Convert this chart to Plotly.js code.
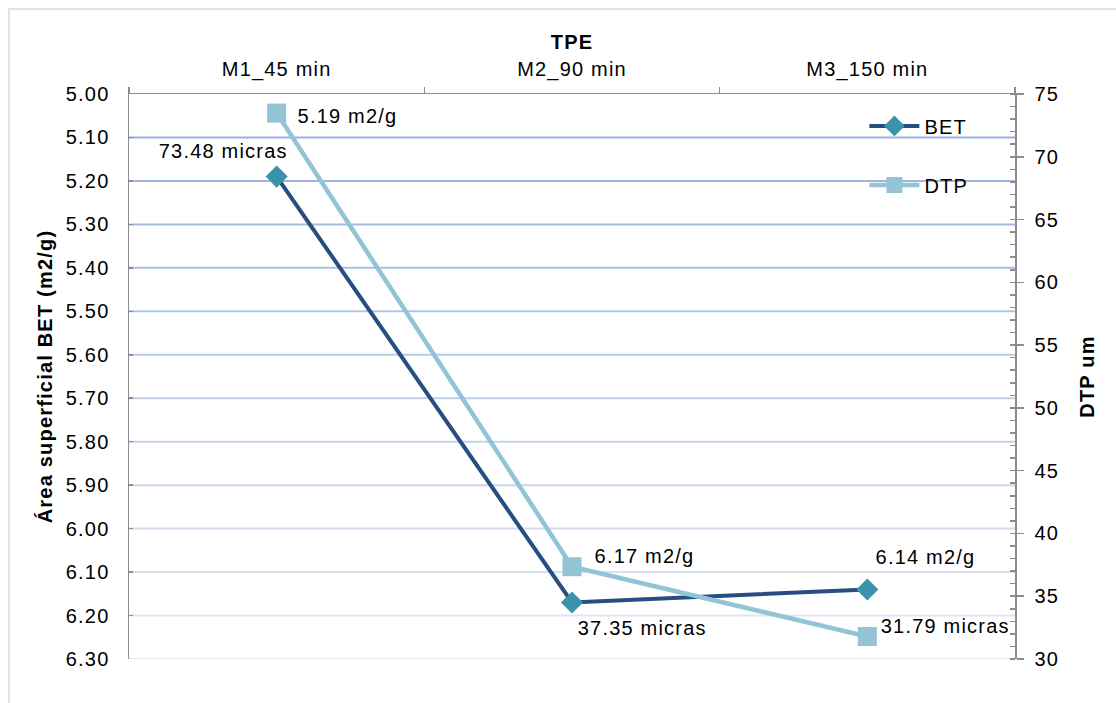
<!DOCTYPE html>
<html>
<head>
<meta charset="utf-8">
<script src="https://cdn.plot.ly/plotly-3.0.1.min.js"></script>
<style>
  html, body { margin: 0; padding: 0; background: #ffffff; }
  #wrap { position: relative; width: 1116px; height: 703px; overflow: hidden; }
  #chart { position: absolute; left: 0; top: 0; width: 1116px; height: 703px; }
  #chart text { letter-spacing: 1.2px; }
  #frame { position: absolute; left: 8px; top: 8px; width: 1200px; height: 800px;
           border-left: 2px solid #dbe4f1; border-top: 2px solid #dbe4f1; pointer-events: none; }
</style>
</head>
<body>
<div id="wrap">
  <div id="chart"></div>
  <div id="frame"></div>
</div>
<script>
// Muestras y tiempos de proceso (TPE)
const muestras = ['M1_45 min', 'M2_90 min', 'M3_150 min'];
// Área superficial BET (m2/g)
const bet = [5.19, 6.17, 6.14];
// Diámetro de partícula DTP (micras)
const dtp = [73.48, 37.35, 31.79];
// Marcas del eje izquierdo (invertido) y del eje derecho
const ticksBet = [5.0, 5.1, 5.2, 5.3, 5.4, 5.5, 5.6, 5.7, 5.8, 5.9, 6.0, 6.1, 6.2, 6.3];
const ticksDtp = [30, 35, 40, 45, 50, 55, 60, 65, 70, 75];

const FONT = 'Liberation Sans, Arial, sans-serif';
const SIZE = 20;

const traces = [
  {
    x: muestras, y: bet, name: 'BET', type: 'scatter', mode: 'lines+markers',
    xaxis: 'x', yaxis: 'y', legendgroup: 'a',
    line: { color: '#264e80', width: 4 },
    marker: { symbol: 'diamond', size: 17, color: '#3a93aa' }
  },
  {
    x: muestras, y: dtp, name: 'DTP', type: 'scatter', mode: 'lines+markers',
    xaxis: 'x', yaxis: 'y2', legendgroup: 'b',
    line: { color: '#93c4d6', width: 4.5 },
    marker: { symbol: 'square', size: 19, color: '#93c4d6' }
  }
];

// Líneas de cuadrícula con tono degradado de arriba hacia abajo
function mezcla(c1, c2, t) {
  const a = c1.match(/\w\w/g).map(h => parseInt(h, 16));
  const b = c2.match(/\w\w/g).map(h => parseInt(h, 16));
  return 'rgb(' + a.map((v, i) => Math.round(v + (b[i] - v) * t)).join(',') + ')';
}
const shapes = ticksBet.slice(1, -1).map((v, i, arr) => ({
  type: 'line', layer: 'below', xref: 'paper', x0: 0, x1: 1, yref: 'y', y0: v, y1: v,
  line: { color: mezcla('98b1df', 'dfe5f2', i / (arr.length - 1)), width: 2 }
}));
shapes.push({
  type: 'line', layer: 'below', xref: 'paper', x0: 0, x1: 1, yref: 'y',
  y0: ticksBet[ticksBet.length - 1], y1: ticksBet[ticksBet.length - 1],
  line: { color: '#e3e8f2', width: 2 }
});

// Etiquetas de datos
const fontLbl = { family: FONT, size: SIZE, color: '#000000' };
function etiqueta(x, y, yref, texto, dx, dy, anchor) {
  return { x: x, y: y, xref: 'x', yref: yref, text: texto, showarrow: false,
           xanchor: anchor, yanchor: 'middle', xshift: dx, yshift: dy, font: fontLbl };
}
const annotations = [
  etiqueta(muestras[0], dtp[0], 'y2', bet[0].toFixed(2) + ' m2/g', 24, -3, 'left'),
  etiqueta(muestras[0], bet[0], 'y', dtp[0].toFixed(2) + ' micras', -53, 26, 'center'),
  etiqueta(muestras[1], dtp[1], 'y2', bet[1].toFixed(2) + ' m2/g', 26, 11, 'left'),
  etiqueta(muestras[1], bet[1], 'y', dtp[1].toFixed(2) + ' micras', 11, -25, 'left'),
  etiqueta(muestras[2], bet[2], 'y', bet[2].toFixed(2) + ' m2/g', 12, 32, 'left'),
  etiqueta(muestras[2], dtp[2], 'y2', dtp[2].toFixed(2) + ' micras', 19, 11, 'left')
];

const layout = {
  width: 1116, height: 703,
  margin: { l: 129, r: 101, t: 94, b: 44 },
  paper_bgcolor: '#ffffff', plot_bgcolor: '#ffffff',
  font: { family: FONT, size: SIZE, color: '#000000' },
  showlegend: true,
  legend: {
    x: 0.83, y: 0.978, xanchor: 'left', yanchor: 'top',
    bgcolor: 'rgba(0,0,0,0)', font: { family: FONT, size: SIZE, color: '#000' },
    traceorder: 'grouped', tracegroupgap: 30, itemwidth: 50
  },
  xaxis: {
    type: 'category', side: 'top', range: [-0.5, 2.5],
    showgrid: false, zeroline: false,
    showline: true, linecolor: '#8c8c8c', linewidth: 1.5,
    ticks: 'outside', tickson: 'boundaries', ticklen: 6, tickcolor: '#8c8c8c', tickwidth: 1.5,
    ticklabelstandoff: 9,
    tickfont: { family: FONT, size: SIZE, color: '#000' },
    title: { text: '<b>TPE</b>', font: { family: FONT, size: SIZE, color: '#000' }, standoff: 2 },
    fixedrange: true
  },
  yaxis: {
    range: [6.3, 5.0], tickvals: ticksBet, ticktext: ticksBet.map(v => v.toFixed(2)),
    showgrid: false, zeroline: false,
    showline: true, linecolor: '#8c8c8c', linewidth: 1.5,
    ticks: 'inside', ticklen: 4, tickcolor: '#8c8c8c', tickwidth: 1.5,
    ticklabelstandoff: 14,
    tickfont: { family: FONT, size: SIZE, color: '#000' },
    title: { text: '<b>Área superficial BET (m2/g)</b>', font: { family: FONT, size: SIZE, color: '#000' }, standoff: 12 },
    fixedrange: true
  },
  yaxis2: {
    overlaying: 'y', side: 'right', range: [30, 75], tickvals: ticksDtp,
    showgrid: false, zeroline: false,
    showline: true, linecolor: '#8c8c8c', linewidth: 1.5,
    ticks: 'outside', ticklen: 7, tickcolor: '#8c8c8c', tickwidth: 1.5,
    ticklabelstandoff: 7,
    minor: { dtick: 1, ticks: 'inside', ticklen: 5, tickcolor: '#8c8c8c', tickwidth: 1.5, showgrid: false },
    tickfont: { family: FONT, size: SIZE, color: '#000' },
    title: { text: '<b>DTP um</b>', font: { family: FONT, size: SIZE, color: '#000' }, standoff: 24 },
    fixedrange: true
  },
  shapes: shapes,
  annotations: annotations
};

Plotly.newPlot('chart', traces, layout, { displayModeBar: false, staticPlot: true });
</script>
</body>
</html>
